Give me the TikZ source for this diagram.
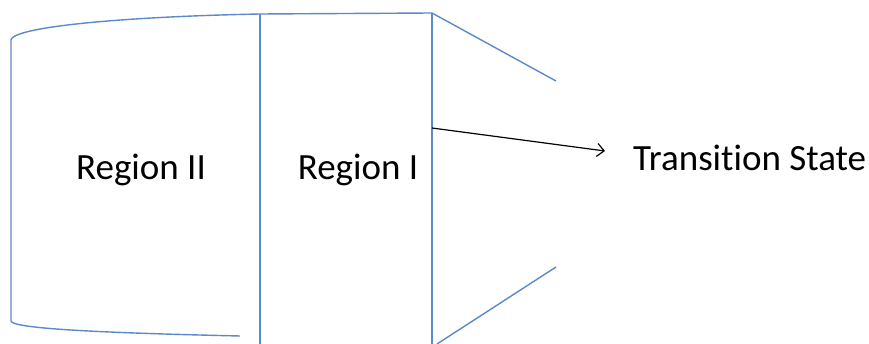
\documentclass[tikz,border=0pt]{standalone}
\usepackage{fontspec}
\setmainfont[Ligatures={NoCommon}]{Carlito}
\usetikzlibrary{arrows.meta}
\definecolor{blueline}{RGB}{91,137,201}
\begin{document}
\begin{tikzpicture}[x=1pt,y=-1pt,
  edge/.style={draw=blueline,line width=1.4pt},
  lbl/.style={font=\fontsize{37}{44}\selectfont,inner sep=0pt}]
\useasboundingbox (0,0) rectangle (869,344);
\coordinate (tl) at (11,40);
\coordinate (bl) at (11,321);
\coordinate (tm) at (260,14);
\coordinate (bm) at (260,344);
\coordinate (tr) at (432,13);
\coordinate (br) at (432,344);
\coordinate (d1) at (556,81);
\coordinate (d2a) at (437,344);
\coordinate (d2) at (556,267);
\coordinate (bend) at (240,336);
\coordinate (astart) at (432,128);
\coordinate (aend) at (605,151);
\draw[edge] (bl) -- (tl) .. controls (12,28) and (110,17) .. (tm) -- (tr);
\draw[edge] (bl) .. controls (12,329) and (110,333) .. (bend);
\draw[edge] (tm) -- (bm);
\draw[edge] (tr) -- (br);
\draw[edge] (tr) -- (d1);
\draw[edge] (d2a) -- (d2);
\draw[line width=1.2pt,-{Straight Barb[length=7pt,width=13pt]}] (astart) -- (aend);
\node[lbl] (r2) at (141,170) {Region II};
\node[lbl] (r1) at (358,170) {Region I};
\node[lbl,anchor=west] (ts) at (633,158) {Transition State};
\end{tikzpicture}
\end{document}
